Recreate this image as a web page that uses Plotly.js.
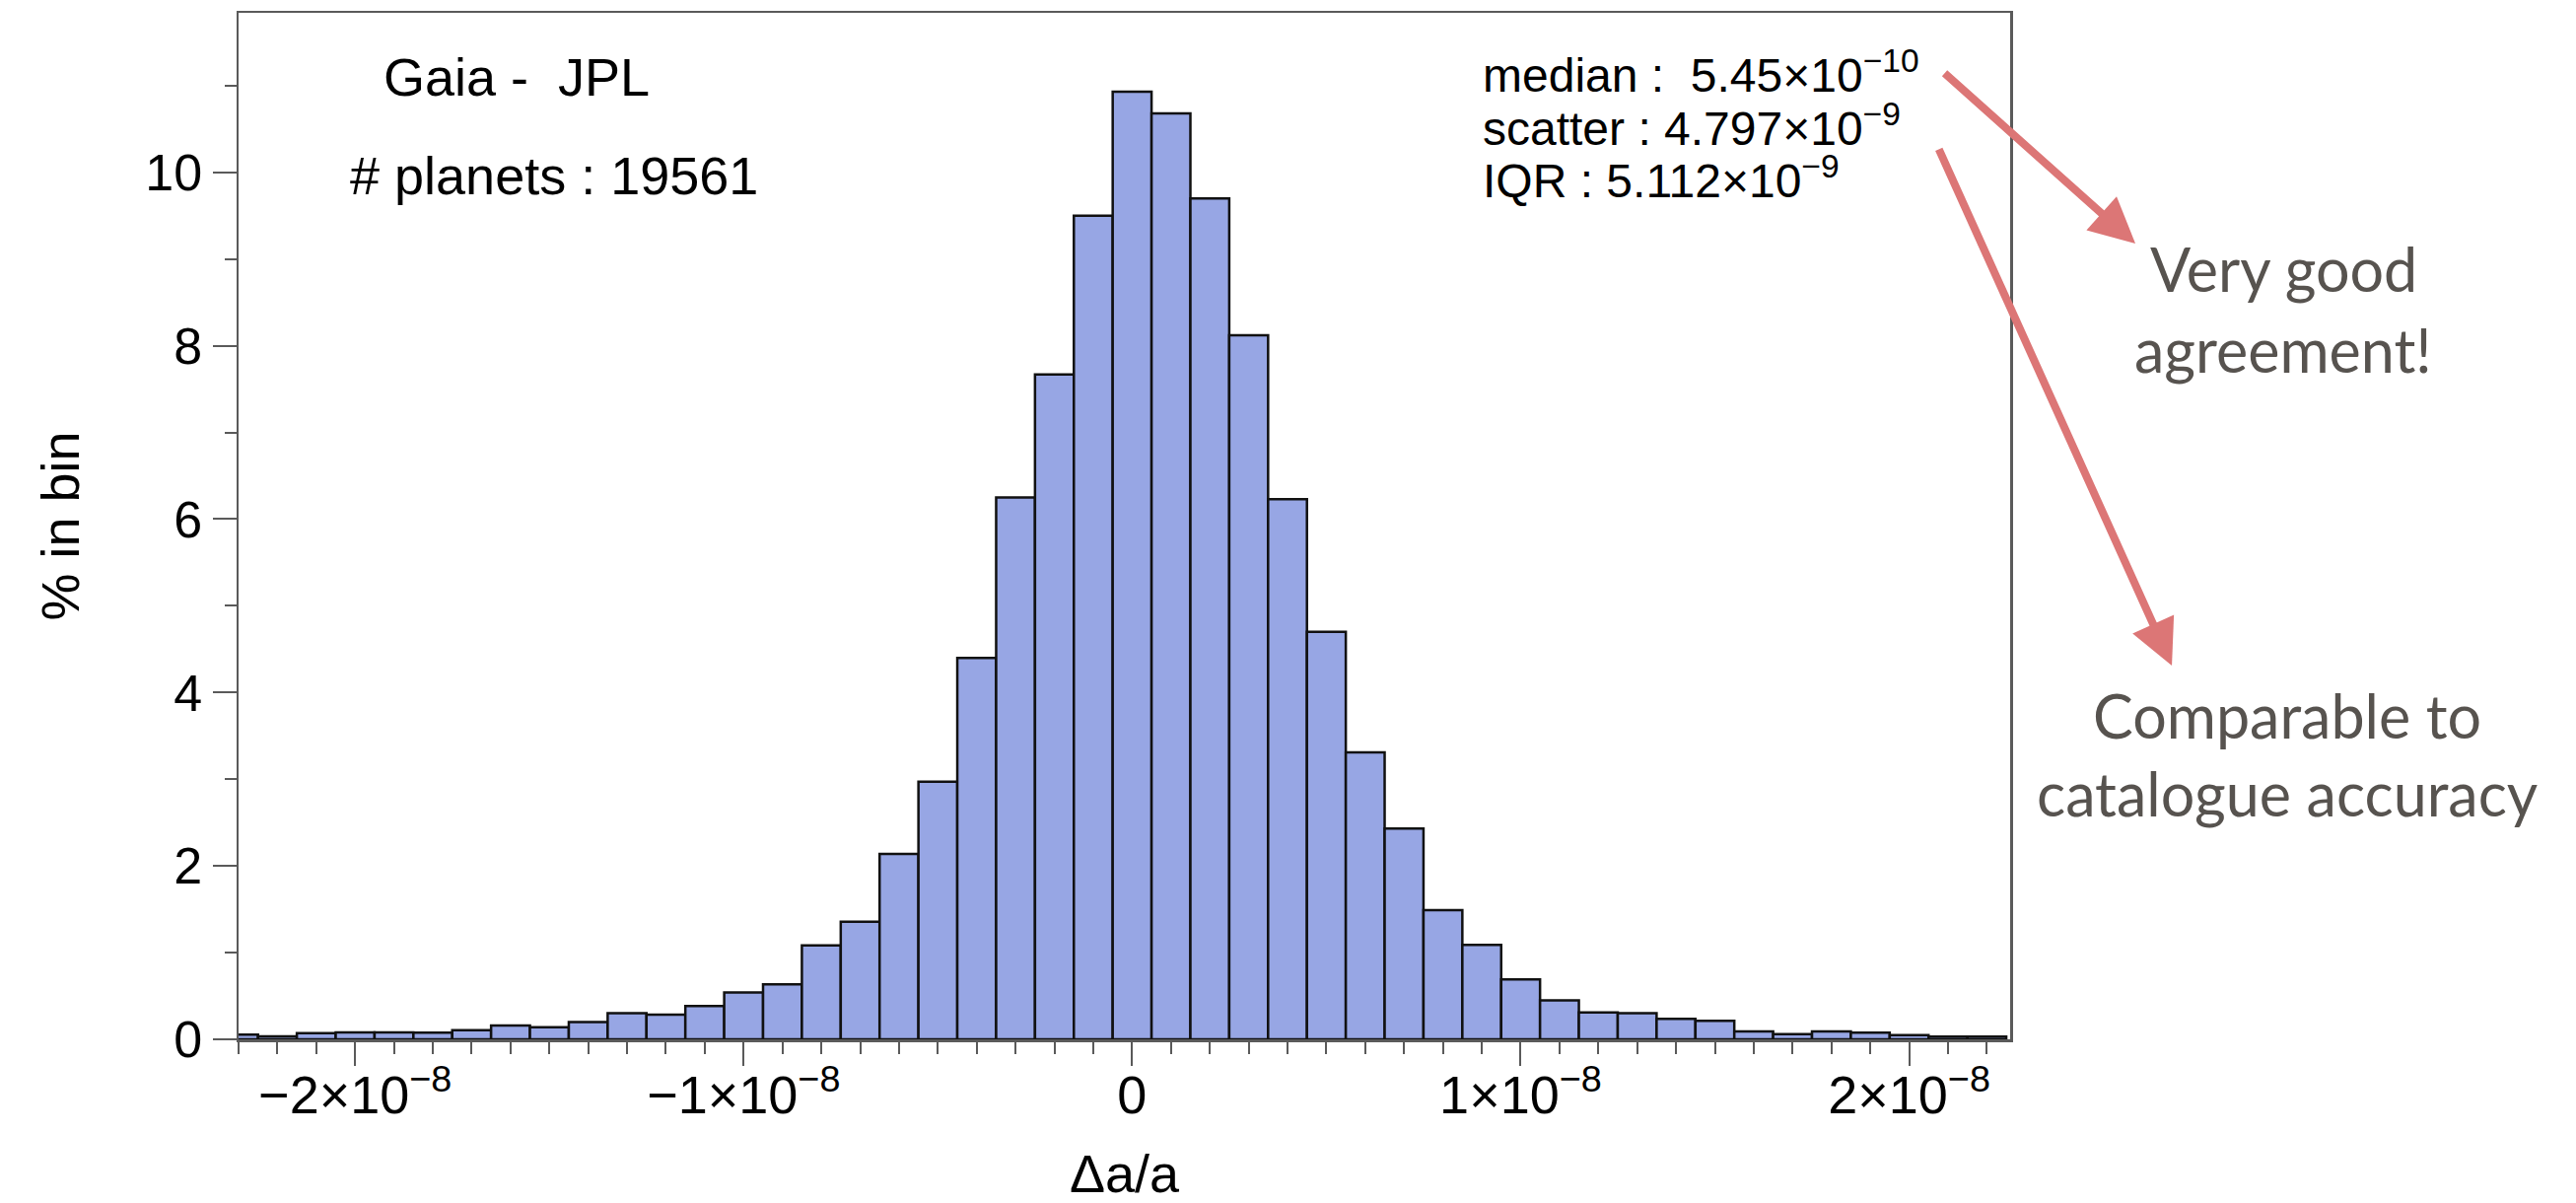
<!DOCTYPE html>
<html>
<head>
<meta charset="utf-8">
<script src="https://cdn.plot.ly/plotly-3.0.1.min.js"></script>
<style>
  html, body { margin: 0; padding: 0; background: #ffffff; }
  #chart { width: 2613px; height: 1220px; }
</style>
</head>
<body>
<div id="chart"></div>
<script>
// ---- data ----
// bin centres of Δa/a (bins are 1e-9 wide)
const binCenters = [
  -23e-9, -22e-9, -21e-9, -20e-9, -19e-9, -18e-9, -17e-9, -16e-9, -15e-9, -14e-9,
  -13e-9, -12e-9, -11e-9, -10e-9, -9e-9, -8e-9, -7e-9, -6e-9, -5e-9, -4e-9,
  -3e-9, -2e-9, -1e-9, 0, 1e-9, 2e-9, 3e-9, 4e-9, 5e-9, 6e-9,
  7e-9, 8e-9, 9e-9, 10e-9, 11e-9, 12e-9, 13e-9, 14e-9, 15e-9, 16e-9,
  17e-9, 18e-9, 19e-9, 20e-9, 21e-9, 22e-9
];
// percentage of planets in each bin
const percentInBin = [
  0.053, 0.034, 0.072, 0.080, 0.080, 0.076, 0.106, 0.160, 0.140, 0.200,
  0.300, 0.285, 0.383, 0.540, 0.634, 1.082, 1.355, 2.137, 2.970, 4.400,
  6.250, 7.670, 9.500, 10.930, 10.680, 9.700, 8.120, 6.230, 4.700, 3.310,
  2.430, 1.490, 1.090, 0.690, 0.448, 0.310, 0.300, 0.235, 0.213, 0.091,
  0.061, 0.091, 0.076, 0.049, 0.030, 0.030
];
const binWidth = 1e-9;

const xTickVals = [-2e-8, -1e-8, 0, 1e-8, 2e-8];
const xTickText = ['\u22122\u00d710<sup>\u22128</sup>', '\u22121\u00d710<sup>\u22128</sup>', '0',
                   '1\u00d710<sup>\u22128</sup>', '2\u00d710<sup>\u22128</sup>'];

const titleLines = ['Gaia -\u00a0 JPL', '# planets : 19561'];
const statLines = [
  'median :\u00a0 5.45\u00d710<sup>\u221210</sup>',
  'scatter : 4.797\u00d710<sup>\u22129</sup>',
  'IQR : 5.112\u00d710<sup>\u22129</sup>'
];
const noteLines = [['Very good', 'agreement!'], ['Comparable to', 'catalogue accuracy']];

// ---- styling ----
const axisGrey = '#5a5a5a';
const chartFont = '"Liberation Sans", Arial, Helvetica, sans-serif';
const noteFont = 'Lato, "Open Sans", sans-serif';
const noteColor = '#57534f';
const arrowColor = '#dc7676';

const trace = {
  type: 'bar',
  x: binCenters,
  y: percentInBin,
  width: binCenters.map(() => binWidth),
  marker: { color: '#97a6e4', line: { color: '#111111', width: 2.5 } },
  hoverinfo: 'x+y',
  showlegend: false
};

const annotations = [];
// text inside the frame
annotations.push({ xref: 'paper', yref: 'paper', x: 0.0805, y: 0.9376, xanchor: 'left', yanchor: 'middle',
  text: titleLines[0], showarrow: false, font: { family: chartFont, size: 54, color: '#000' } });
annotations.push({ xref: 'paper', yref: 'paper', x: 0.0620, y: 0.8415, xanchor: 'left', yanchor: 'middle',
  text: titleLines[1], showarrow: false, font: { family: chartFont, size: 54, color: '#000' } });
const statY = [0.9425, 0.8905, 0.8400];
statLines.forEach((t, i) => annotations.push({ xref: 'paper', yref: 'paper', x: 0.7010, y: statY[i],
  xanchor: 'left', yanchor: 'middle', text: t, showarrow: false,
  font: { family: chartFont, size: 48, color: '#000' } }));

// side notes
const noteX = [1.1542, 1.1564];
const noteY = [[0.7512, 0.6715], [0.3160, 0.2392]];
noteLines.forEach((lines, g) => lines.forEach((t, i) => annotations.push({
  xref: 'paper', yref: 'paper', x: noteX[g], y: noteY[g][i], xanchor: 'center', yanchor: 'middle',
  text: t, showarrow: false, font: { family: noteFont, size: 61, color: noteColor } })));

// arrows
annotations.push({ xref: 'paper', yref: 'paper', x: 1.0707, y: 0.7752, ax: -195, ay: -174,
  text: '', showarrow: true, arrowhead: 2, arrowsize: 1.15, arrowwidth: 8, arrowcolor: arrowColor, standoff: 0 });
annotations.push({ xref: 'paper', yref: 'paper', x: 1.0913, y: 0.3641, ax: -237, ay: -525,
  text: '', showarrow: true, arrowhead: 2, arrowsize: 1.15, arrowwidth: 8, arrowcolor: arrowColor, standoff: 0 });

const layout = {
  width: 2613,
  height: 1220,
  margin: { l: 242, r: 574, t: 13, b: 166 },
  paper_bgcolor: '#ffffff',
  plot_bgcolor: '#ffffff',
  bargap: 0,
  font: { family: chartFont, color: '#000' },
  xaxis: {
    range: [-2.3e-8, 2.26e-8],
    tickmode: 'array',
    tickvals: xTickVals,
    ticktext: xTickText,
    ticks: 'outside', ticklen: 24, tickwidth: 2, tickcolor: axisGrey,
    ticklabelstandoff: -16,
    minor: { tickmode: 'linear', tick0: 0, dtick: 1e-9, ticks: 'outside', ticklen: 12, tickwidth: 2, tickcolor: axisGrey, showgrid: false },
    tickfont: { family: chartFont, size: 54, color: '#000' },
    showgrid: false, zeroline: false,
    showline: true, mirror: true, linecolor: axisGrey, linewidth: 2.5,
    title: { text: '\u0394a/a', font: { family: chartFont, size: 54, color: '#000' }, standoff: 33 }
  },
  yaxis: {
    range: [0, 11.84],
    tickmode: 'linear', tick0: 0, dtick: 2,
    ticks: 'outside', ticklen: 24, tickwidth: 2, tickcolor: axisGrey,
    minor: { tickmode: 'linear', tick0: 0, dtick: 1, ticks: 'outside', ticklen: 12, tickwidth: 2, tickcolor: axisGrey, showgrid: false },
    tickfont: { family: chartFont, size: 52, color: '#000' },
    showgrid: false, zeroline: false,
    showline: true, mirror: true, linecolor: axisGrey, linewidth: 2.5,
    title: { text: '% in bin', font: { family: chartFont, size: 54, color: '#000' }, standoff: 50 }
  },
  annotations: annotations
};

Plotly.newPlot('chart', [trace], layout, { displayModeBar: false, staticPlot: true });
</script>
</body>
</html>
